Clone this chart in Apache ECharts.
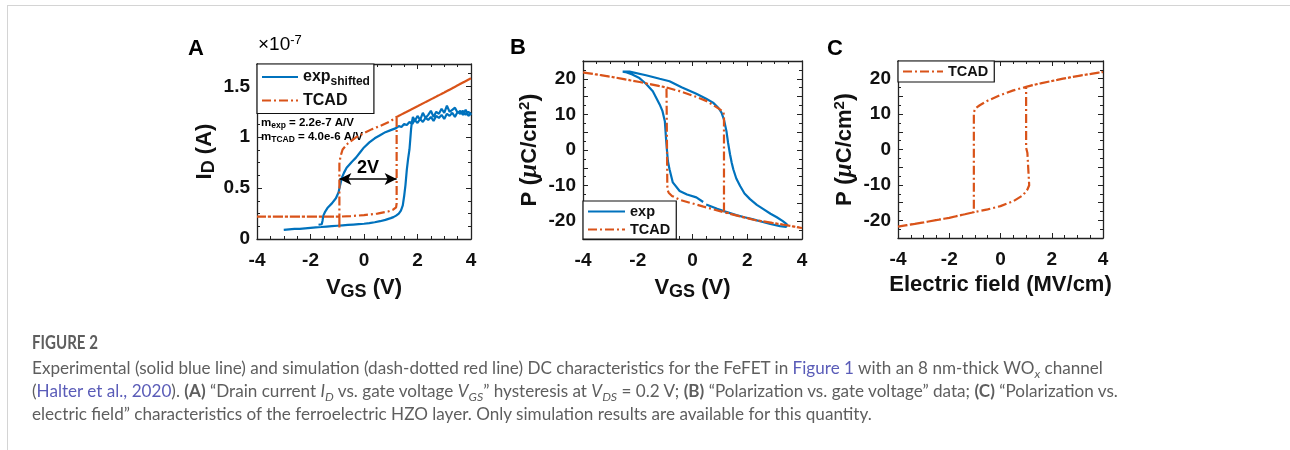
<!DOCTYPE html>
<html><head><meta charset="utf-8">
<script src="https://cdn.jsdelivr.net/npm/echarts@6/dist/echarts.min.js"></script>
<style>
html,body{margin:0;padding:0;background:#fff;width:1290px;height:450px;overflow:hidden}
#frame{position:absolute;left:7px;top:5px;width:1283px;height:445px;border-left:1px solid #d4d4d4;border-top:1px solid #d4d4d4;box-sizing:border-box}
#chart{position:absolute;left:0;top:0;width:1290px;height:450px}
.cap{position:absolute;left:32px;font-family:Lato,'Open Sans',sans-serif;color:#5e5e5e;white-space:nowrap;line-height:22px}
.cap a{color:#5a5cb8;text-decoration:none}
.cap sub{font-size:0.72em;vertical-align:-0.3em;line-height:0}
#fig{font-weight:bold;color:#5e5e5e;transform-origin:0 50%}
</style></head><body>
<div id="frame"></div>
<div id="chart"></div>
<div class="cap" id="fig" style="top:331px">FIGURE 2</div>
<div class="cap cl" style="top:357px">Experimental (solid blue line) and simulation (dash-dotted red line) DC characteristics for the FeFET in <a>Figure 1</a> with an 8 nm-thick WO<sub><i>x</i></sub> channel</div>
<div class="cap cl" style="top:380px">(<a>Halter et al., 2020</a>). <b>(A)</b> “Drain current <i>I<sub>D</sub></i> vs. gate voltage <i>V<sub>GS</sub></i>” hysteresis at <i>V<sub>DS</sub></i> = 0.2 V; <b>(B)</b> “Polarization vs. gate voltage” data; <b>(C)</b> “Polarization vs.</div>
<div class="cap cl" style="top:403px">electric field” characteristics of the ferroelectric HZO layer. Only simulation results are available for this quantity.</div>
<script>
// ---------- data ----------
const aExpV = [-3.0,-2.8,-2.6,-2.4,-2.2,-2.0,-1.8,-1.6,-1.4,-1.2,-1.0,-0.8,-0.6,-0.4,-0.2,0.0,0.2,0.4,0.6,0.8,1.0,1.1,1.2,1.3,1.38,1.45,1.5,1.55,1.6,1.65,1.7,1.73,1.76,1.79,1.83,
  1.9,2.0,2.1,2.2,2.3,2.4,2.5,2.6,2.7,2.8,2.9,3.0,3.1,3.2,3.3,3.4,3.5,3.6,3.7,3.8,3.9,4.0,
  3.9,3.8,3.7,3.6,3.5,3.4,3.3,3.2,3.1,3.0,2.9,2.8,2.7,2.6,2.5,2.4,2.3,2.2,2.1,2.0,1.9,1.8,1.7,1.6,1.5,1.4,1.3,
  1.2,1.0,0.8,0.6,0.4,0.2,0.0,-0.15,-0.3,-0.45,-0.55,-0.65,-0.75,-0.83,-0.9,-0.95,-1.05,-1.2,-1.35,-1.45,-1.52,-1.55,-1.58,-1.7];
const aExpI = [0.09,0.095,0.10,0.10,0.105,0.11,0.115,0.118,0.122,0.126,0.13,0.134,0.138,0.142,0.146,0.15,0.156,0.165,0.175,0.188,0.205,0.215,0.23,0.25,0.28,0.33,0.42,0.53,0.68,0.79,0.88,0.98,1.08,1.15,1.2,
  1.16,1.21,1.17,1.24,1.19,1.22,1.26,1.2,1.25,1.23,1.28,1.24,1.31,1.25,1.27,1.29,1.24,1.26,1.22,1.27,1.21,1.23,
  1.25,1.22,1.26,1.23,1.25,1.2,1.24,1.21,1.23,1.18,1.22,1.19,1.21,1.16,1.2,1.17,1.19,1.15,1.18,1.14,1.17,1.13,1.15,1.12,1.13,1.1,1.11,
  1.09,1.07,1.05,1.02,0.99,0.95,0.9,0.85,0.8,0.76,0.73,0.7,0.65,0.6,0.52,0.46,0.4,0.35,0.31,0.27,0.23,0.18,0.145,0.14];
const aTcadV = [-4,-3,-2,-0.92,-0.5,0,0.5,0.9,1.1,1.2,1.22,1.22,2,3,4,3,2,1.22,1.0,0.6,0.3,0,-0.3,-0.6,-0.8,-0.88,-0.92,-0.92,-0.92,-2,-3,-4];
const aTcadI = [0.22,0.22,0.22,0.22,0.225,0.235,0.25,0.27,0.29,0.31,0.35,1.2,1.305,1.44,1.58,1.44,1.305,1.2,1.16,1.11,1.08,1.04,1.0,0.94,0.88,0.81,0.74,0.1,0.22,0.22,0.22,0.22];
const aArrowV = [-0.92, 1.22];
const aArrowI = 0.59;

const bExpV = [0.39,0.14,-0.2,-0.47,-0.72,-0.84,-0.9,-0.96,-1.01,-1.1,-1.2,-1.45,-1.7,-1.94,-2.2,-2.45,-2.55,-2.5,-2.3,-1.7,-1.2,-0.84,-0.4,0.14,0.5,0.75,0.95,1.06,1.15,1.24,1.3,1.37,1.43,1.49,1.6,1.74,1.9,2.1,2.35,2.59,2.85,3.08,3.3,3.45,3.5,3.42,3.2,2.84,2.5,2.22,1.9,1.6,1.2,0.9,0.5];
const bExpP = [-14.6,-13.3,-12.5,-11.5,-9.1,-5.4,-3.1,2.5,8.1,11.0,12.8,16.5,18.6,20.2,21.2,21.9,22.0,22.15,22.0,21.0,20.0,19.3,17.6,15.8,14.4,13.3,11.8,10.5,8.5,5.3,2.0,-1.2,-3.5,-5.4,-8.0,-10.1,-12.2,-13.8,-15.4,-16.6,-17.9,-18.9,-20.0,-20.9,-21.3,-21.6,-21.4,-20.8,-20.1,-19.5,-18.9,-18.3,-17.3,-16.5,-15.3];
const bTcadV = [-4,-3,-1.93,-0.95,-0.5,0.15,0.5,0.76,1.0,1.13,1.15,1.15,1.5,2.23,3.33,4,3.33,2.23,1.25,0.4,-0.1,-0.46,-0.75,-0.87,-0.91,-0.92,-0.95,-1.93,-3,-4];
const bTcadP = [21.8,20.6,19.1,17.55,16.6,14.9,13.8,12.6,11.4,10.7,9.5,-17.3,-18.2,-19.6,-21.0,-21.9,-21.0,-19.6,-17.7,-15.9,-14.8,-14.0,-12.9,-12.0,-11.2,-10.0,17.55,19.1,20.6,21.8];

const cTcadE = [-4,-3,-2,-1.04,-0.5,0,0.5,0.88,1.05,1.12,1.08,1.05,1.0,1.0,1.5,2.44,3.2,4,3.2,2.44,1.5,1.0,0.5,-0.03,-0.5,-0.81,-0.98,-1.04,-1.04,-2,-3,-4];
const cTcadP = [-21.8,-20.6,-19.3,-17.7,-16.9,-16.0,-14.6,-12.9,-11.3,-10.1,-5,-1,0.5,17.7,18.6,20.0,21.0,21.9,21.0,20.0,18.6,17.7,16.7,15.3,13.8,12.5,11.6,10.5,-17.7,-19.3,-20.6,-21.8];

const vTicks = [-4,-2,0,2,4];
const iTicks = [0,0.5,1,1.5];
const pTicks = [-20,-10,0,10,20];

// ---------- caption fitting ----------
(function(){
  const lines = document.querySelectorAll('.cl');
  lines.forEach(l => l.style.fontSize = '16px');
  const w = lines[0].getBoundingClientRect().width;
  const fs = 16 * 1072 / w;
  lines.forEach(l => l.style.fontSize = fs.toFixed(2) + 'px');
  const f = document.getElementById('fig');
  f.style.fontSize = '19px';
  const fw = f.getBoundingClientRect().width;
  f.style.transform = 'scaleX(' + (66 / fw).toFixed(3) + ')';
})();

// ---------- chart ----------
const BLUE = '#0072BD', RED = '#D95319', INK = '#111';
const FF = '"Liberation Sans", Arial, sans-serif';
const DASHDOT = [9, 3, 2, 3];
const zip = (xs, ys) => xs.map((x, i) => [x, ys[i]]);
const lbl = { fontFamily: FF, fontWeight: 'bold', fontSize: 19, color: INK };
const nameRich = {
  n: { fontFamily: FF, fontWeight: 'bold', fontSize: 22, color: INK, lineHeight: 26 },
  s: { fontFamily: FF, fontWeight: 'bold', fontSize: 18, color: INK, lineHeight: 16, verticalAlign: 'bottom' },
  p: { fontFamily: FF, fontWeight: 'bold', fontSize: 15, color: INK, lineHeight: 14, verticalAlign: 'top' },
  q: { fontFamily: FF, fontWeight: 'bold', fontSize: 24, color: INK, lineHeight: 26 },
  mu: { fontFamily: '"Liberation Serif", serif', fontStyle: 'italic', fontWeight: 'bold', fontSize: 25, color: INK, lineHeight: 26 }
};
const axLine = { show: true, lineStyle: { color: '#222', width: 1.3 } };

function mkX(grid, name, gap, mirror) {
  return {
    type: 'value', gridIndex: grid, min: -4, max: 4, interval: 2,
    position: mirror ? 'top' : 'bottom',
    axisLine: Object.assign({ onZero: false }, axLine),
    axisTick: { show: true, inside: true, length: 5, lineStyle: { color: '#222' } },
    minorTick: { show: true, splitNumber: 4, length: 3, lineStyle: { color: '#222' } },
    splitLine: { show: false }, minorSplitLine: { show: false },
    axisLabel: mirror ? { show: false } : Object.assign({ margin: 12, formatter: v => vTicks.includes(v) ? String(v) : '' }, lbl),
    name: mirror ? '' : name, nameLocation: 'middle', nameGap: gap,
    nameTextStyle: { rich: nameRich }
  };
}
function mkY(grid, min, max, interval, ticks, minorSplit, name, gap, mirror) {
  return {
    type: 'value', gridIndex: grid, min: min, max: max, interval: interval,
    position: mirror ? 'right' : 'left',
    axisLine: Object.assign({ onZero: false }, axLine),
    axisTick: { show: true, inside: true, length: 5, lineStyle: { color: '#222' } },
    minorTick: { show: true, splitNumber: minorSplit, length: 3, lineStyle: { color: '#222' } },
    splitLine: { show: false }, minorSplitLine: { show: false },
    axisLabel: mirror ? { show: false } : Object.assign({ margin: 7, showMaxLabel: true, formatter: v => ticks.some(t => Math.abs(t - v) < 1e-9) ? String(v) : '' }, lbl),
    name: mirror ? '' : name, nameLocation: 'middle', nameGap: gap, nameRotate: 90,
    nameTextStyle: { rich: nameRich }
  };
}
const tcadStyle = { color: RED, width: 2.2, type: DASHDOT };
const expStyle = { color: BLUE, width: 2.2 };
const base = { type: 'line', symbol: 'none', showSymbol: false, smooth: false, animation: false, clip: true, silent: true };

const legText = {
  fontFamily: FF, fontWeight: 'bold', color: INK,
  rich: {
    b: { fontFamily: FF, fontWeight: 'bold', fontSize: 16, color: INK, lineHeight: 21 },
    s: { fontFamily: FF, fontWeight: 'bold', fontSize: 12, color: INK, lineHeight: 11, verticalAlign: 'bottom' },
    c: { fontFamily: FF, fontWeight: 'bold', fontSize: 14.5, color: INK, lineHeight: 16 }
  }
};
const legCommon = { orient: 'vertical', itemHeight: 12, borderColor: '#111', borderWidth: 1.2, backgroundColor: '#fff',
  selectedMode: false, textStyle: legText, itemStyle: { opacity: 0, borderWidth: 0 } };

const option = {
  animation: false,
  backgroundColor: 'transparent',
  grid: [
    { left: 257, top: 64, width: 214, height: 175 },
    { left: 583, top: 61, width: 219, height: 178 },
    { left: 898, top: 61, width: 205, height: 177 }
  ],
  xAxis: [
    mkX(0, '{n|V}{s|GS}{n| (V)}', 36, false), mkX(0, '', 0, true),
    mkX(1, '{n|V}{s|GS}{n| (V)}', 36, false), mkX(1, '', 0, true),
    mkX(2, '{n|Electric field (MV/cm)}', 34, false), mkX(2, '', 0, true)
  ],
  yAxis: [
    mkY(0, 0, 1.72, 0.5, iTicks, 4, '{n|I}{s|D}{n| (A)}', 39, false), mkY(0, 0, 1.72, 0.5, iTicks, 4, '', 0, true),
    mkY(1, -25, 25, 5, pTicks, 2, '{n|P }{q|(}{mu|μ}{n|C/cm}{p|2}{q|)}', 40, false), mkY(1, -25, 25, 5, pTicks, 2, '', 0, true),
    mkY(2, -25, 25, 5, pTicks, 2, '{n|P }{q|(}{mu|μ}{n|C/cm}{p|2}{q|)}', 40, false), mkY(2, -25, 25, 5, pTicks, 2, '', 0, true)
  ],
  legend: [
    Object.assign({}, legCommon, { data: ['exp_shifted', 'TCAD'], left: 257, top: 64, itemWidth: 36, itemGap: 5, padding: [5, 4, 5, 4],
      formatter: n => n === 'exp_shifted' ? '{b|exp}{s|shifted}' : '{b|' + n + '}' }),
    Object.assign({}, legCommon, { data: ['exp', 'TCAD'], left: 583, bottom: 450 - 239, itemWidth: 37, itemGap: 3, padding: [3, 6, 2, 4],
      formatter: n => '{c|' + n + '}' }),
    Object.assign({}, legCommon, { data: ['TCAD'], left: 898, top: 61, itemWidth: 40, padding: [3, 6, 3, 4],
      formatter: n => '{c|' + n + '}' })
  ],
  series: [
    Object.assign({}, base, { name: 'exp_shifted', xAxisIndex: 0, yAxisIndex: 0, data: zip(aExpV, aExpI), lineStyle: expStyle, itemStyle: { color: BLUE }, z: 2 }),
    Object.assign({}, base, { name: 'TCAD', xAxisIndex: 0, yAxisIndex: 0, data: zip(aTcadV, aTcadI), lineStyle: tcadStyle, itemStyle: { color: RED }, z: 3,
      markLine: {
        silent: true, animation: false, symbol: ['arrow', 'arrow'], symbolSize: [9, 12],
        lineStyle: { color: '#000', width: 1.6, type: 'solid' },
        label: { show: true, position: 'insideMiddleTop', distance: 2, formatter: '2V', fontFamily: FF, fontWeight: 'bold', fontSize: 18, color: '#000' },
        emphasis: { disabled: true },
        data: [[{ coord: [aArrowV[0], aArrowI] }, { coord: [aArrowV[1], aArrowI] }]]
      } }),
    Object.assign({}, base, { name: 'exp', xAxisIndex: 2, yAxisIndex: 2, data: zip(bExpV, bExpP), lineStyle: expStyle, itemStyle: { color: BLUE }, z: 2 }),
    Object.assign({}, base, { name: 'TCAD', xAxisIndex: 2, yAxisIndex: 2, data: zip(bTcadV, bTcadP), lineStyle: tcadStyle, itemStyle: { color: RED }, z: 3 }),
    Object.assign({}, base, { name: 'TCAD', xAxisIndex: 4, yAxisIndex: 4, data: zip(cTcadE, cTcadP), lineStyle: tcadStyle, itemStyle: { color: RED }, z: 3 })
  ],
  graphic: [
    { type: 'text', left: 188, top: 38, style: { text: 'A', font: 'bold 22px ' + FF, fill: '#000' } },
    { type: 'text', left: 510, top: 37, style: { text: 'B', font: 'bold 22px ' + FF, fill: '#000' } },
    { type: 'text', left: 827, top: 38, style: { text: 'C', font: 'bold 22px ' + FF, fill: '#000' } },
    { type: 'text', left: 258, top: 34, style: { text: '{a|×10}{b|-7}', rich: {
        a: { fontSize: 19, fontFamily: FF, fill: '#000', lineHeight: 22 },
        b: { fontSize: 13, fontFamily: FF, fill: '#000', lineHeight: 12, verticalAlign: 'top' } } } },
    { type: 'text', left: 261, top: 117, style: { text: '{m|m}{s|exp}{m| = 2.2e-7 A/V}\n{m|m}{s|TCAD}{m| = 4.0e-6 A/V}', rich: {
        m: { fontSize: 11.5, fontWeight: 'bold', fontFamily: FF, fill: '#000', lineHeight: 14 },
        s: { fontSize: 8.5, fontWeight: 'bold', fontFamily: FF, fill: '#000', lineHeight: 8, verticalAlign: 'bottom' } } } }
  ]
};
const chart = echarts.init(document.getElementById('chart'), null, { renderer: 'canvas' });
chart.setOption(option);
</script>
</body></html>
